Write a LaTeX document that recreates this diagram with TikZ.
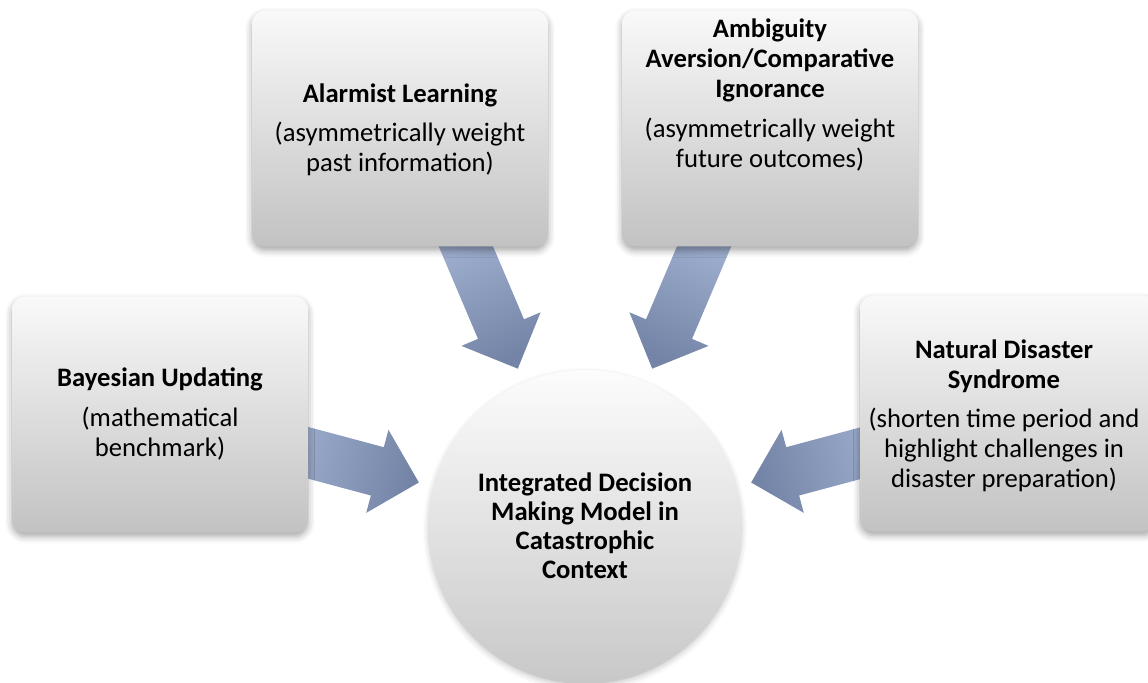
\documentclass[tikz,border=0pt]{standalone}
\usepackage{fontspec}
\setmainfont{Carlito}
\usetikzlibrary{calc,shadows.blur}
\definecolor{arrL}{RGB}{164,180,212}
\definecolor{arrD}{RGB}{116,132,166}
\definecolor{boxT}{RGB}{249,249,249}
\definecolor{boxB}{RGB}{194,194,194}
\definecolor{cirT}{RGB}{252,252,252}
\definecolor{cirB}{RGB}{200,200,200}
\newcommand\radarrow[1]{%
  \pgfmathsetmacro\shang{#1-90}%
  \path[arrstyle, shading angle=\shang]
    ($(c.center)+(#1:172)$)
    -- ($(c.center)+(#1:215)+(#1+90:43)$)
    -- ($(c.center)+(#1:215)+(#1+90:25)$)
    -- ($(c.center)+(#1:330)+(#1+90:25)$)
    -- ($(c.center)+(#1:330)+(#1-90:25)$)
    -- ($(c.center)+(#1:215)+(#1-90:25)$)
    -- ($(c.center)+(#1:215)+(#1-90:43)$)
    -- cycle;}
\begin{document}
\begin{tikzpicture}[x=0.75pt,y=0.75pt,
  arrstyle/.style={top color=arrL, bottom color=arrD},
  box/.style={rounded corners=10pt, minimum width=222pt, minimum height=177pt,
    inner sep=0pt, top color=boxT, bottom color=boxB,
    blur shadow={shadow xshift=0pt, shadow yshift=-3pt, shadow blur radius=5pt, shadow opacity=35}},
  hub/.style={circle, minimum size=235.5pt, inner sep=0pt, top color=cirT, bottom color=cirB,
    blur shadow={shadow xshift=0pt, shadow yshift=-2pt, shadow blur radius=4pt, shadow opacity=20}},
  txt/.style={align=center, font=\fontsize{20}{22.5}\selectfont, text=black, inner sep=0pt}]
\useasboundingbox (0,0) rectangle (1148,682);
\clip (0,0) rectangle (1148,682);
\coordinate (c) at (585,155);
% arrows
\radarrow{165}
\radarrow{113}
\radarrow{67}
\radarrow{15}
% boxes
\node[box] (bay) at (160,267.5) {};
\node[box] (ala) at (400,553.5) {};
\node[box] (amb) at (770,553.5) {};
\node[box] (nat) at (1008,268.5) {};
\node[hub] (hub) at (c) {};
% texts
\node[txt] (bayT) at (160,268) {\textbf{Bayesian Updating}\\[7pt](mathematical\\benchmark)};
\node[txt] (alaT) at (400,552) {\textbf{Alarmist Learning}\\[7pt](asymmetrically weight\\past information)};
\node[txt] (ambT) at (770,587) {\textbf{Ambiguity}\\\textbf{Aversion/Comparative}\\\textbf{Ignorance}\\[7pt](asymmetrically weight\\future outcomes)};
\node[txt] (natT) at (1004,266) {\textbf{Natural Disaster}\\\textbf{Syndrome}\\[7pt](shorten time period and\\highlight challenges in\\disaster preparation)};
\node[txt, font=\fontsize{20}{21.75}\selectfont] (hubT) at (585,156.5) {\textbf{Integrated Decision}\\\textbf{Making Model in}\\\textbf{Catastrophic}\\\textbf{Context}};
\end{tikzpicture}
\end{document}
